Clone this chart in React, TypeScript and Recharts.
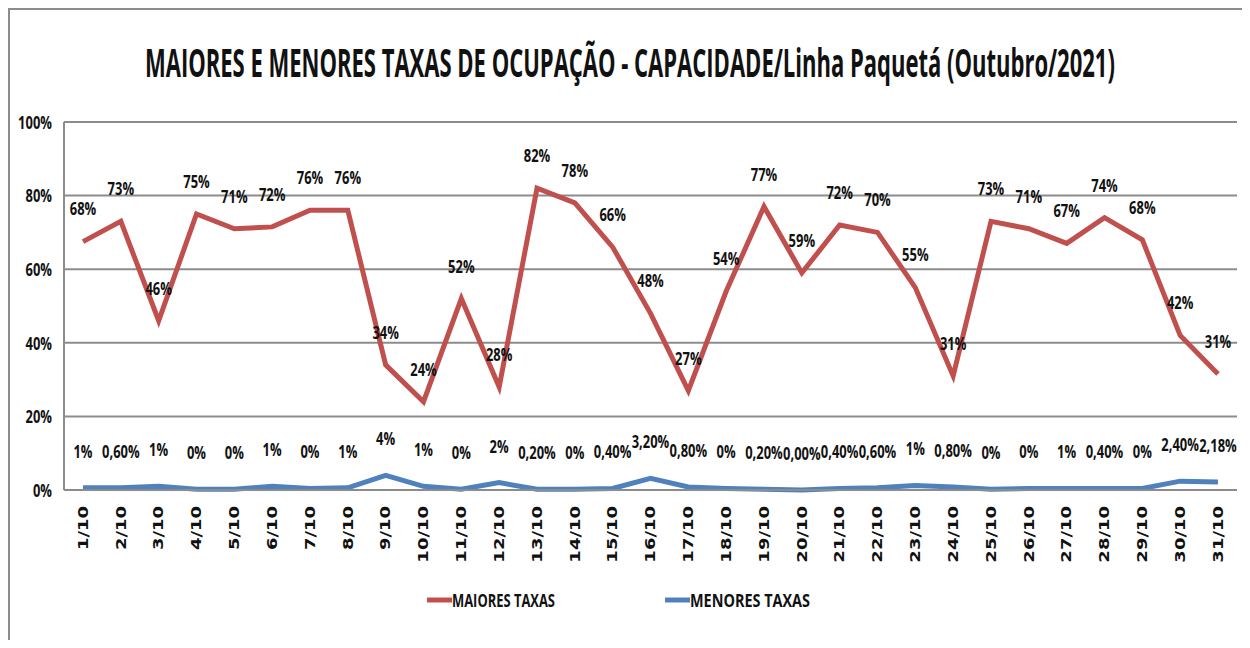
import React, { useLayoutEffect, useRef, useState } from 'react';
import { LineChart, Line, XAxis, YAxis, CartesianGrid, Legend, LabelList } from 'recharts';

const title = 'MAIORES E MENORES TAXAS DE OCUPAÇÃO - CAPACIDADE/Linha Paquetá (Outubro/2021)';

const days = [
  '1/10', '2/10', '3/10', '4/10', '5/10', '6/10', '7/10', '8/10', '9/10', '10/10',
  '11/10', '12/10', '13/10', '14/10', '15/10', '16/10', '17/10', '18/10', '19/10', '20/10',
  '21/10', '22/10', '23/10', '24/10', '25/10', '26/10', '27/10', '28/10', '29/10', '30/10', '31/10',
];

const maioresValues = [
  67.5, 73, 46, 75, 71, 71.5, 76, 76, 34, 24,
  52, 28, 82, 78, 66, 48, 27, 54, 77, 59,
  72, 70, 55, 31, 73, 71, 67, 74, 68, 42, 31.5,
];
const maioresLabels = [
  '68%', '73%', '46%', '75%', '71%', '72%', '76%', '76%', '34%', '24%',
  '52%', '28%', '82%', '78%', '66%', '48%', '27%', '54%', '77%', '59%',
  '72%', '70%', '55%', '31%', '73%', '71%', '67%', '74%', '68%', '42%', '31%',
];

const menoresValues = [
  0.6, 0.6, 1, 0.2, 0.2, 1, 0.4, 0.6, 4, 1,
  0.2, 2, 0.2, 0.2, 0.4, 3.2, 0.8, 0.4, 0.2, 0,
  0.4, 0.6, 1.2, 0.8, 0.2, 0.4, 0.4, 0.4, 0.4, 2.4, 2.18,
];
const menoresLabels = [
  '1%', '0,60%', '1%', '0%', '0%', '1%', '0%', '1%', '4%', '1%',
  '0%', '2%', '0,20%', '0%', '0,40%', '3,20%', '0,80%', '0%', '0,20%', '0,00%',
  '0,40%', '0,60%', '1%', '0,80%', '0%', '0%', '1%', '0,40%', '0%', '2,40%', '2,18%',
];

const yTicks = [0, 20, 40, 60, 80, 100];
const seriesNames = ['MAIORES TAXAS', 'MENORES TAXAS'];

const RED = '#C0504D';
const BLUE = '#4F81BD';
const GRID = '#8c8c8c';
const LABEL_FONT = '"Open Sans", "Noto Sans", sans-serif';

const data = days.map((day, i) => ({
  day,
  maiores: maioresValues[i],
  menores: menoresValues[i],
}));

const squeeze = (x: number, y: number, k: number) =>
  `translate(${x} ${y}) scale(${k} 1) translate(${-x} ${-y})`;

const makeLabel = (labels: string[], offset: number) => (props: any) => {
  const { x, y, index } = props;
  const cy = y - offset;
  return (
    <text
      key={`l-${index}`}
      x={x}
      y={cy}
      textAnchor="middle"
      dominantBaseline="central"
      fontFamily={LABEL_FONT}
      fontSize={18}
      fontWeight="bold"
      fill="#111"
      transform={squeeze(x, cy, 0.72)}
    >
      {labels[index]}
    </text>
  );
};

const YTick = (props: any) => {
  const { x, y, payload } = props;
  return (
    <text
      x={x}
      y={y}
      textAnchor="end"
      dominantBaseline="central"
      fontFamily={LABEL_FONT}
      fontSize={18}
      fontWeight="bold"
      fill="#111"
      transform={squeeze(x, y, 0.72)}
    >
      {`${payload.value}%`}
    </text>
  );
};

const XTick = (props: any) => {
  const { x, y, payload } = props;
  return (
    <text
      x={0}
      y={0}
      textAnchor="end"
      dominantBaseline="central"
      fontFamily='"DejaVu Sans", Verdana, sans-serif'
      fontSize={18}
      fontWeight="bold"
      fill="#111"
      transform={`translate(${x} ${y + 16}) rotate(-90) scale(1 0.78)`}
    >
      {payload.value}
    </text>
  );
};

const legendSlots = [
  { line: 417, text: 442, len: 103 },
  { line: 655, text: 680, len: 120 },
];

const renderLegend = (props: any) => {
  const items = props.payload || [];
  return (
    <svg width={1240} height={24} style={{ display: 'block' }}>
      {items.map((entry: any, i: number) => {
        const slot = legendSlots[i];
        return (
          <g key={entry.value}>
            <line x1={slot.line} x2={slot.line + 25} y1={12} y2={12} stroke={entry.color} strokeWidth={5} />
            <text
              x={slot.text}
              y={12}
              dominantBaseline="central"
              fontFamily={LABEL_FONT}
              fontSize={17}
              fontWeight="bold"
              fill="#111"
              textLength={slot.len}
              lengthAdjust="spacingAndGlyphs"
            >
              {entry.value}
            </text>
          </g>
        );
      })}
    </svg>
  );
};

function Title() {
  const ref = useRef<SVGTextElement>(null);
  const [k, setK] = useState(0.52);
  useLayoutEffect(() => {
    if (ref.current) {
      const len = ref.current.getComputedTextLength();
      if (len > 0) setK(970 / len);
    }
  }, []);
  return (
    <svg width={1240} height={100} style={{ position: 'absolute', left: 0, top: 0, pointerEvents: 'none' }}>
      <text
        ref={ref}
        x={135}
        y={67}
        fontFamily={LABEL_FONT}
        fontSize={40}
        fontWeight="bold"
        fill="#111"
        transform={squeeze(135, 67, k)}
      >
        {title}
      </text>
    </svg>
  );
}

export default function App() {
  return (
    <div
      style={{
        position: 'relative',
        width: 1242,
        height: 632,
        boxSizing: 'border-box',
        borderLeft: `2px solid ${GRID}`,
        borderTop: `2px solid ${GRID}`,
        background: '#fff',
      }}
    >
      <Title />
      <LineChart width={1240} height={630} data={data} margin={{ top: 112, right: 13, left: 0, bottom: 28 }}>
        <CartesianGrid vertical={false} stroke={GRID} strokeWidth={2} />
        <XAxis
          dataKey="day"
          interval={0}
          padding={{ left: 19, right: 19 }}
          tickLine={false}
          tickSize={0}
          tickMargin={0}
          axisLine={{ stroke: GRID, strokeWidth: 2 }}
          height={98}
          tick={<XTick />}
        />
        <YAxis
          domain={[0, 100]}
          ticks={yTicks}
          width={54}
          tickLine={false}
          tickSize={0}
          tickMargin={12}
          axisLine={{ stroke: GRID, strokeWidth: 2 }}
          tick={<YTick />}
        />
        <Legend verticalAlign="bottom" content={renderLegend} wrapperStyle={{ left: 0, width: 1240, height: 24 }} />
        <Line
          type="linear"
          dataKey="maiores"
          name={seriesNames[0]}
          stroke={RED}
          strokeWidth={5}
          dot={false}
          isAnimationActive={false}
        >
          <LabelList dataKey="maiores" content={makeLabel(maioresLabels, 33)} />
        </Line>
        <Line
          type="linear"
          dataKey="menores"
          name={seriesNames[1]}
          stroke={BLUE}
          strokeWidth={5}
          dot={false}
          isAnimationActive={false}
        >
          <LabelList dataKey="menores" content={makeLabel(menoresLabels, 37)} />
        </Line>
      </LineChart>
    </div>
  );
}
